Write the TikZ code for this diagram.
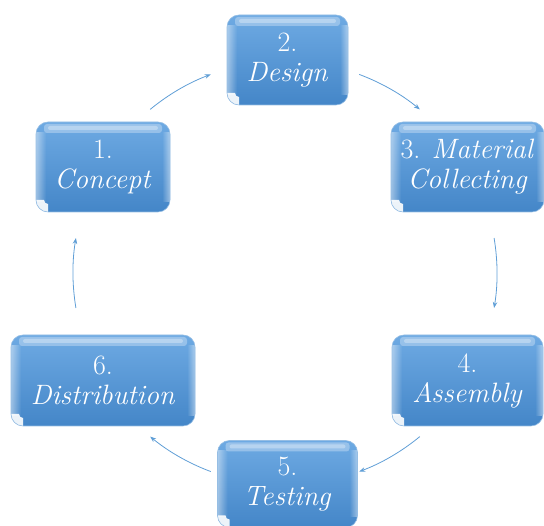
\documentclass[tikz,border=0pt]{standalone}
\usepackage{fontspec}
\usetikzlibrary{calc,arrows.meta,fadings}
\definecolor{boxtop}{RGB}{110,170,227}
\definecolor{boxbot}{RGB}{68,134,200}
\definecolor{boxedge}{RGB}{150,190,228}
\definecolor{arrowblue}{RGB}{95,158,214}
\tikzset{
  stagebox/.style={rounded corners=12pt, top color=boxtop, bottom color=boxbot,
    draw=boxedge, line width=0.6pt, text=white, align=center,
    font=\fontsize{28}{30}\selectfont, inner sep=0pt,
    path picture={
      \fill[white,opacity=0.3,rounded corners=3pt]
        ($(path picture bounding box.north west)+(8,-2)$) rectangle
        ($(path picture bounding box.north east)+(-8,-11)$);
      \fill[white,opacity=0.3,rounded corners=2pt]
        ($(path picture bounding box.north west)+(12,-4)$) rectangle
        ($(path picture bounding box.north east)+(-12,-8)$);
      \fill[white,opacity=0.45,sharp corners,path fading=east]
        ($(path picture bounding box.north west)+(0,-10)$) rectangle
        ($(path picture bounding box.south west)+(10,10)$);
      \fill[white,opacity=0.45,sharp corners,path fading=west]
        ($(path picture bounding box.north east)+(0,-10)$) rectangle
        ($(path picture bounding box.south east)+(-8,10)$);
      \fill[white,opacity=0.9,sharp corners]
        (path picture bounding box.south west) -- ++(0,12) -- ++(8,0)
        arc[start angle=180, end angle=270, radius=4] -- ++(0,-8) -- cycle;
    }},
  cyclearrow/.style={draw=arrowblue, line width=0.8pt,
    -{Stealth[length=6pt,width=4.5pt]}}
}
\begin{document}
\begin{tikzpicture}[x=1pt,y=1pt]
\useasboundingbox (0,0) rectangle (544,526);
\clip (0,0) rectangle (544,526);
\coordinate (c) at (285,253);
\node[stagebox, minimum width=134pt, minimum height=90pt] (n1) at (103,359) {1.\\\textit{Concept}};
\node[stagebox, minimum width=121pt, minimum height=90pt] (n2) at (287.5,466) {2.\\\textit{Design}};
\node[stagebox, minimum width=153pt, minimum height=90pt] (n3) at (467.5,359) {3. \textit{Material}\\\textit{Collecting}};
\node[stagebox, minimum width=151pt, minimum height=91pt] (n4) at (467.5,145.5) {4.\\\textit{Assembly}};
\node[stagebox, minimum width=140pt, minimum height=87pt] (n5) at (287.5,42) {5.\\\textit{Testing}};
\node[stagebox, minimum width=184pt, minimum height=91pt] (n6) at (103,145.5) {6.\\\textit{Distribution}};
\foreach \a in {120,60,0,-60,-120,180}{
  \draw[cyclearrow] ([shift={(\a+9.5:212)}]c) arc[start angle=\a+9.5, end angle=\a-9.5, radius=212];
}
\end{tikzpicture}
\end{document}
